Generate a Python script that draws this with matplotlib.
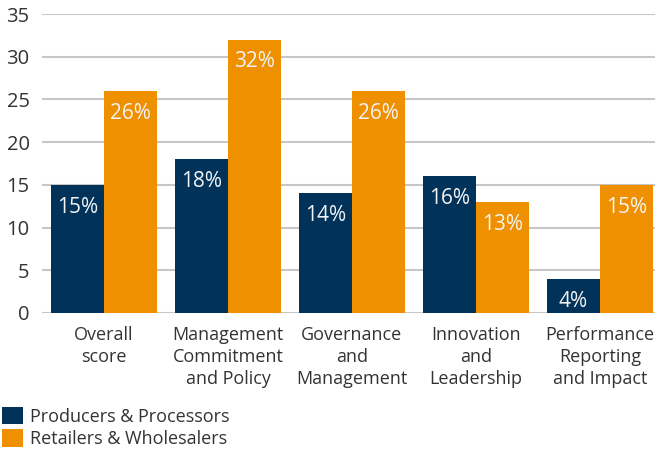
import numpy as np
import matplotlib
matplotlib.use("Agg")
import matplotlib.pyplot as plt

categories = ["Overall\nscore", "Management\nCommitment\nand Policy", "Governance\nand\nManagement",
              "Innovation\nand\nLeadership", "Performance\nReporting\nand Impact"]
producers = [15, 18, 14, 16, 4]
retailers = [26, 32, 26, 13, 15]
series_names = ["Producers & Processors", "Retailers & Wholesalers"]

NAVY = "#00325A"
ORANGE = "#EE9000"

plt.rcParams['font.family'] = ['Open Sans', 'DejaVu Sans']

fig = plt.figure(figsize=(6.55, 4.5), dpi=100)
ax = fig.add_axes([42 / 655, 137 / 450, 613 / 655, 299 / 450])

x = np.arange(len(categories))
w = 53 / 124
b1 = ax.bar(x - w / 2, producers, w, color=NAVY, label=series_names[0], zorder=3)
b2 = ax.bar(x + w / 2, retailers, w, color=ORANGE, label=series_names[1], zorder=3)

for bars, vals in ((b1, producers), (b2, retailers)):
    for r, v in zip(bars, vals):
        ax.annotate(f"{v}%", (r.get_x() + r.get_width() / 2, v), xytext=(0, -16),
                    textcoords="offset points", ha="center", va="center",
                    color="#F4F4F4", fontsize=15)

ax.set_xlim(-0.5, 4.5 - 7 / 124)
ax.set_ylim(0, 35)
ax.set_yticks(range(0, 36, 5))
ax.yaxis.grid(True, color="#C6C6C6", linewidth=1.5, zorder=0)
for s in ax.spines.values():
    s.set_visible(False)
ax.tick_params(axis="both", length=0, colors="#333333")
ax.tick_params(axis="y", labelsize=14.5, pad=9)
ax.set_xticks(x)
ax.set_xticklabels(categories, fontsize=13, linespacing=1.3)
ax.tick_params(axis="x", pad=9)

fig.legend(handles=[b1, b2], labels=series_names, loc="lower left",
           bbox_to_anchor=(0, 0), frameon=False, fontsize=13,
           handlelength=1.2, handleheight=1.1, handletextpad=0.35,
           labelspacing=0.2, borderpad=0.1, borderaxespad=0.0,
           labelcolor="#333333")

fig.savefig("out.png", dpi=100)
